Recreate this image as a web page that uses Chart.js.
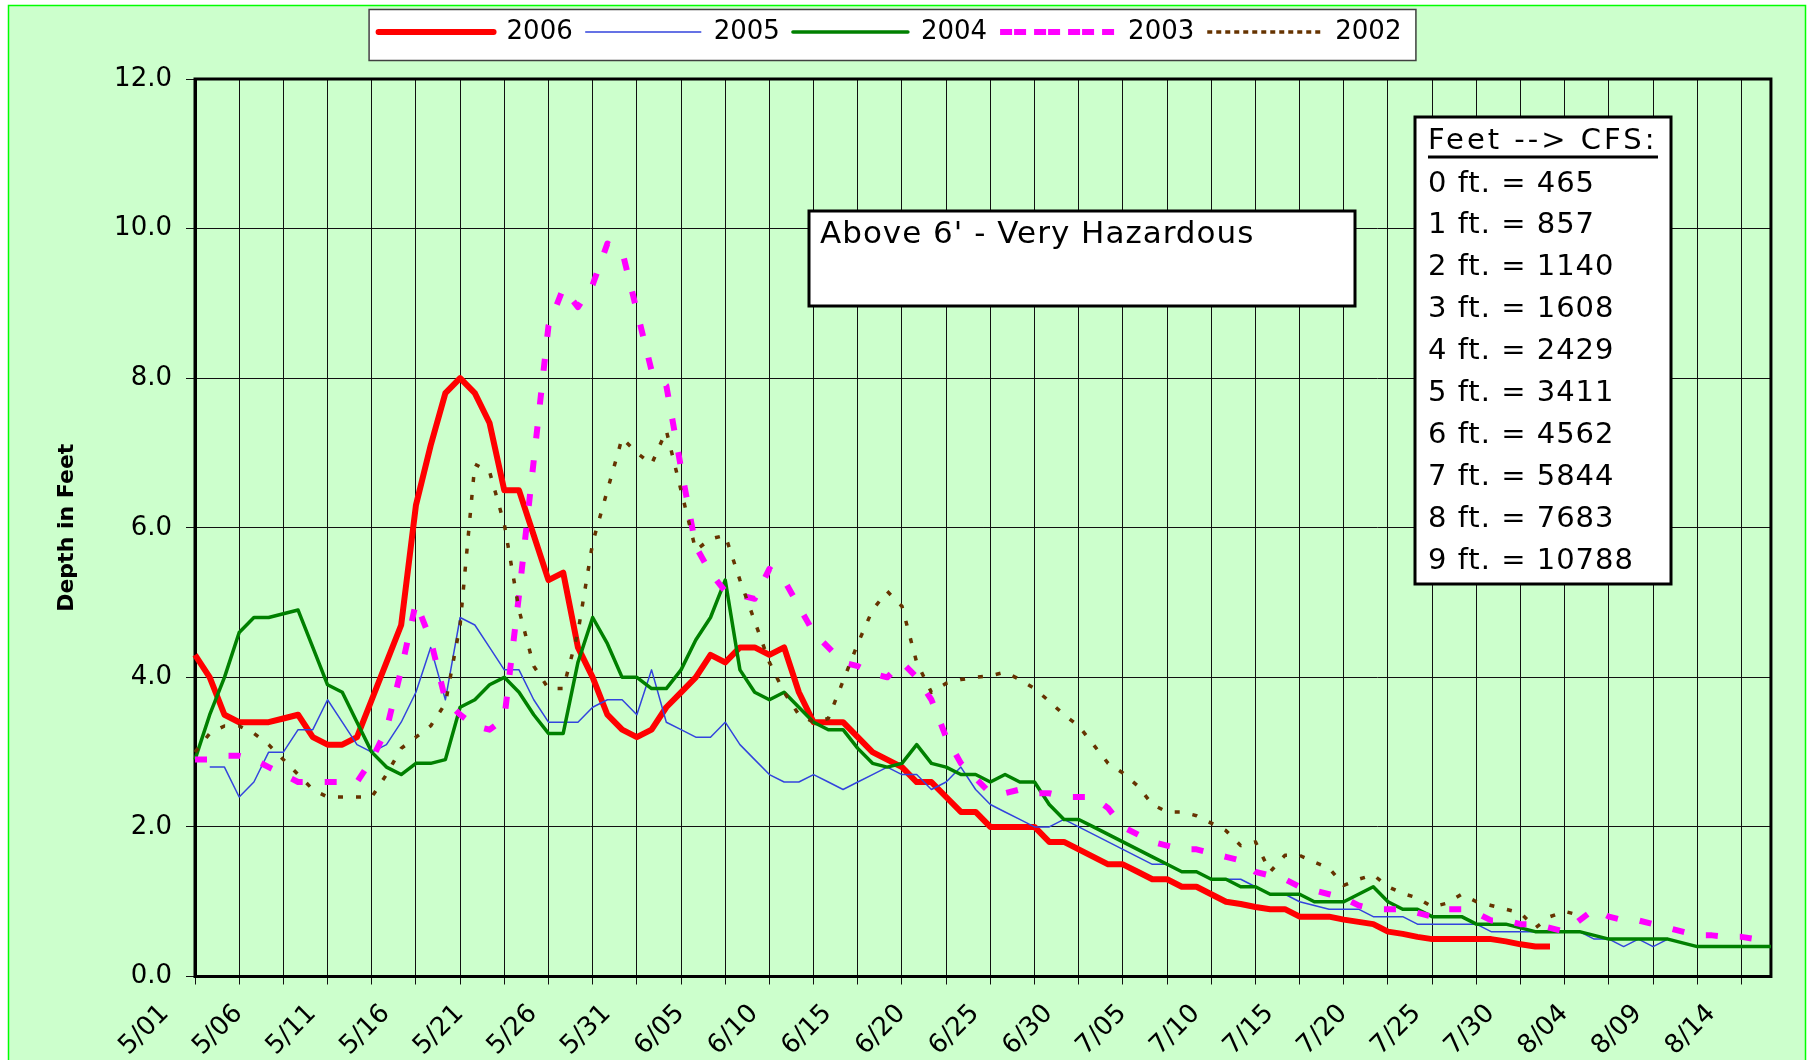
<!DOCTYPE html>
<html>
<head>
<meta charset="utf-8">
<title>Depth in Feet 2002-2006</title>
<script src="https://cdn.jsdelivr.net/npm/chart.js@4.4.1/dist/chart.umd.min.js"></script>
<style>
  html, body { margin: 0; padding: 0; background: #fff; }
</style>
</head>
<body>
<canvas id="grafico" width="1807" height="1060"></canvas>
<script>
// categorias: um ponto por dia, 5/01 ate 8/16
const meses = [['5', 31], ['6', 30], ['7', 31], ['8', 16]];
const dias = [];
meses.forEach(([m, n]) => {
  for (let d = 1; d <= n; d++) dias.push(m + '/' + String(d).padStart(2, '0'));
});

const anos = ['2006', '2005', '2004', '2003', '2002'];
const yTicks = [0, 2, 4, 6, 8, 10, 12];

const s2006 = [4.3, 4.0, 3.5, 3.4, 3.4, 3.4, 3.45, 3.5, 3.2, 3.1,
  3.1, 3.2, 3.7, 4.2, 4.7, 6.3, 7.1, 7.8, 8.0, 7.8,
  7.4, 6.5, 6.5, 5.9, 5.3, 5.4, 4.4, 4.0, 3.5, 3.3,
  3.2, 3.3, 3.6, 3.8, 4.0, 4.3, 4.2, 4.4, 4.4, 4.3,
  4.4, 3.8, 3.4, 3.4, 3.4, 3.2, 3.0, 2.9, 2.8, 2.6,
  2.6, 2.4, 2.2, 2.2, 2.0, 2.0, 2.0, 2.0, 1.8, 1.8,
  1.7, 1.6, 1.5, 1.5, 1.4, 1.3, 1.3, 1.2, 1.2, 1.1,
  1.0, 0.97, 0.93, 0.9, 0.9, 0.8, 0.8, 0.8, 0.76, 0.73,
  0.7, 0.6, 0.57, 0.53, 0.5, 0.5, 0.5, 0.5, 0.5, 0.47,
  0.43, 0.4, 0.4];

const s2005 = [null, 2.8, 2.8, 2.4, 2.6, 3.0, 3.0, 3.3, 3.3, 3.7,
  3.4, 3.1, 3.0, 3.1, 3.4, 3.8, 4.4, 3.7, 4.8, 4.7,
  4.4, 4.1, 4.1, 3.7, 3.4, 3.4, 3.4, 3.6, 3.7, 3.7,
  3.5, 4.1, 3.4, 3.3, 3.2, 3.2, 3.4, 3.1, 2.9, 2.7,
  2.6, 2.6, 2.7, 2.6, 2.5, 2.6, 2.7, 2.8, 2.7, 2.7,
  2.5, 2.6, 2.8, 2.5, 2.3, 2.2, 2.1, 2.0, 2.0, 2.1,
  2.0, 1.9, 1.8, 1.7, 1.6, 1.5, 1.5, 1.4, 1.4, 1.3,
  1.3, 1.3, 1.2, 1.1, 1.1, 1.0, 0.95, 0.9, 0.9, 0.9,
  0.8, 0.8, 0.8, 0.7, 0.7, 0.7, 0.7, 0.7, 0.6, 0.6,
  0.6, 0.6, 0.6, 0.6, 0.6, 0.5, 0.5, 0.4, 0.5, 0.4,
  0.5, 0.45, 0.4, 0.4, 0.4, 0.4, 0.4, 0.4];

const s2004 = [2.9, 3.5, 4.0, 4.6, 4.8, 4.8, 4.85, 4.9, 4.4, 3.9,
  3.8, 3.4, 3.0, 2.8, 2.7, 2.85, 2.85, 2.9, 3.6, 3.7,
  3.9, 4.0, 3.8, 3.5, 3.25, 3.25, 4.2, 4.8, 4.45, 4.0,
  4.0, 3.85, 3.85, 4.1, 4.5, 4.8, 5.3, 4.1, 3.8, 3.7,
  3.8, 3.6, 3.4, 3.3, 3.3, 3.05, 2.85, 2.8, 2.85, 3.1,
  2.85, 2.8, 2.7, 2.7, 2.6, 2.7, 2.6, 2.6, 2.3, 2.1,
  2.1, 2.0, 1.9, 1.8, 1.7, 1.6, 1.5, 1.4, 1.4, 1.3,
  1.3, 1.2, 1.2, 1.1, 1.1, 1.1, 1.0, 1.0, 1.0, 1.1,
  1.2, 1.0, 0.9, 0.9, 0.8, 0.8, 0.8, 0.7, 0.7, 0.7,
  0.65, 0.6, 0.6, 0.6, 0.6, 0.55, 0.5, 0.5, 0.5, 0.5,
  0.5, 0.45, 0.4, 0.4, 0.4, 0.4, 0.4, 0.4];

const s2003 = [2.9, 2.9, 2.95, 2.95, 2.9, 2.8, 2.7, 2.6, 2.6, 2.6,
  2.6, 2.6, 2.9, 3.3, 4.1, 5.0, 4.5, 3.7, 3.5, 3.35,
  3.3, 3.45, 5.1, 6.9, 8.7, 9.2, 8.95, 9.25, 9.8, 9.7,
  8.9, 8.1, 7.9, 6.8, 5.75, 5.4, 5.15, 5.1, 5.05, 5.45,
  5.3, 4.95, 4.6, 4.4, 4.2, 4.15, 4.05, 4.0, 4.2, 4.0,
  3.7, 3.2, 2.85, 2.65, 2.45, 2.45, 2.5, 2.45, 2.45, 2.4,
  2.4, 2.4, 2.25, 2.0, 1.9, 1.8, 1.75, 1.7, 1.7, 1.65,
  1.6, 1.55, 1.4, 1.35, 1.3, 1.2, 1.15, 1.1, 1.05, 0.95,
  0.9, 0.9, 0.9, 0.85, 0.8, 0.9, 0.9, 0.85, 0.75, 0.75,
  0.7, 0.7, 0.65, 0.6, 0.75, 0.9, 0.8, 0.75, 0.75, 0.7,
  0.65, 0.6, 0.55, 0.55, 0.53, 0.53, 0.5];

const s2002 = [3.0, 3.25, 3.35, 3.35, 3.25, 3.1, 2.9, 2.7, 2.5, 2.4,
  2.4, 2.4, 2.4, 2.7, 3.05, 3.2, 3.35, 3.65, 4.7, 6.85,
  6.75, 6.05, 4.9, 4.15, 3.85, 3.85, 4.6, 5.8, 6.5, 7.2,
  7.0, 6.85, 7.3, 6.5, 5.7, 5.85, 5.9, 5.3, 4.75, 4.2,
  3.8, 3.5, 3.4, 3.45, 3.95, 4.45, 4.9, 5.15, 4.95, 4.2,
  3.8, 3.92, 3.97, 4.0, 4.02, 4.07, 3.97, 3.85, 3.68, 3.5,
  3.35, 3.1, 2.85, 2.72, 2.55, 2.3, 2.2, 2.2, 2.15, 2.05,
  1.95, 1.75, 1.8, 1.4, 1.62, 1.62, 1.53, 1.45, 1.22, 1.3,
  1.36, 1.2, 1.11, 1.05, 0.93, 0.98, 1.1, 1.0, 0.95, 0.9,
  0.85, 0.65, 0.8, 0.87, 0.82];

const aviso = "Above 6' - Very Hazardous";
const cfsTitulo = 'Feet --> CFS:';
const cfsLinhas = ['0 ft. = 465', '1 ft. = 857', '2 ft. = 1140', '3 ft. = 1608', '4 ft. = 2429',
  '5 ft. = 3411', '6 ft. = 4562', '7 ft. = 5844', '8 ft. = 7683', '9 ft. = 10788'];

const fonte = "'DejaVu Sans', sans-serif";

// fundo verde, caixa da legenda, moldura do grafico e as duas caixas de texto
const molduras = {
  id: 'molduras',
  beforeLayout(chart) {
    const lg = chart.legend;
    if (lg && !lg._ajustado) {
      const fitOrig = lg.fit;
      lg.fit = function () { fitOrig.call(this); this.height += 24; };
      lg._ajustado = true;
    }
  },
  beforeDraw(chart) {
    const ctx = chart.ctx;
    ctx.save();
    ctx.fillStyle = '#ffffff';
    ctx.fillRect(0, 0, chart.width, chart.height);
    ctx.fillStyle = '#ccffcc';
    ctx.fillRect(8, 5, chart.width - 9, chart.height - 5);
    ctx.strokeStyle = '#00ff00';
    ctx.lineWidth = 1.5;
    ctx.strokeRect(8.5, 5.5, chart.width - 10, chart.height + 10);

    const hb = chart.legend.legendHitBoxes;
    if (hb && hb.length) {
      const x0 = hb[0].left - 10;
      const ult = hb[hb.length - 1];
      const x1 = ult.left + ult.width + 14;
      ctx.fillStyle = '#ffffff';
      ctx.fillRect(x0, 9, x1 - x0, 51);
      ctx.strokeStyle = '#404040';
      ctx.lineWidth = 1.5;
      ctx.strokeRect(x0 + 0.5, 9.5, x1 - x0, 51);
    }
    ctx.restore();
  },
  beforeDatasetsDraw(chart) {
    const { left, top, right, bottom } = chart.chartArea;
    const ctx = chart.ctx;
    ctx.save();
    ctx.strokeStyle = '#000';
    ctx.lineWidth = 3;
    ctx.strokeRect(left, top, right - left, bottom - top);
    ctx.restore();
  },
  afterDatasetsDraw(chart) {
    const ctx = chart.ctx;
    ctx.save();
    ctx.lineWidth = 3;
    ctx.strokeStyle = '#000';
    ctx.fillStyle = '#fff';

    ctx.fillRect(809, 211, 546, 95);
    ctx.strokeRect(809, 211, 546, 95);
    ctx.fillRect(1415, 117, 256, 467);
    ctx.strokeRect(1415, 117, 256, 467);

    ctx.fillStyle = '#000';
    ctx.textBaseline = 'alphabetic';
    ctx.textAlign = 'left';
    ctx.font = '31px ' + fonte;
    ctx.letterSpacing = '1px';
    ctx.fillText(aviso, 820, 243);

    ctx.font = '29px ' + fonte;
    ctx.letterSpacing = '3px';
    ctx.fillText(cfsTitulo, 1428, 149);
    ctx.lineWidth = 3;
    ctx.beginPath();
    ctx.moveTo(1428, 157);
    ctx.lineTo(1658, 157);
    ctx.stroke();
    ctx.letterSpacing = '1px';
    cfsLinhas.forEach((t, k) => ctx.fillText(t, 1428, 191.5 + k * 41.9));
    ctx.restore();
  }
};

const estilos = [
  { cor: '#ff0000', largura: 6, tracos: [], ordem: 5 },
  { cor: '#3344dd', largura: 1.5, tracos: [], ordem: 4 },
  { cor: '#008000', largura: 3.5, tracos: [], ordem: 3 },
  { cor: '#ff00ff', largura: 6, tracos: [12, 22], ordem: 2 },
  { cor: '#663300', largura: 3.5, tracos: [5, 13], ordem: 1 }
];
const series = [s2006, s2005, s2004, s2003, s2002];

new Chart(document.getElementById('grafico').getContext('2d'), {
  type: 'line',
  data: {
    labels: dias,
    datasets: anos.map((ano, k) => ({
      label: ano,
      data: series[k],
      borderColor: estilos[k].cor,
      backgroundColor: estilos[k].cor,
      borderWidth: estilos[k].largura,
      borderDash: estilos[k].tracos,
      borderCapStyle: 'butt',
      borderJoinStyle: 'round',
      pointRadius: 0,
      tension: 0,
      fill: false,
      order: estilos[k].ordem
    }))
  },
  options: {
    responsive: false,
    animation: false,
    devicePixelRatio: 1,
    layout: { padding: { top: 6, left: 8, right: 35, bottom: 0 } },
    plugins: {
      legend: {
        position: 'top',
        labels: {
          boxWidth: 115,
          boxHeight: 0,
          padding: 13,
          color: '#000',
          font: { family: fonte, size: 26 },
          sort: (a, b) => a.datasetIndex - b.datasetIndex
        }
      },
      tooltip: { enabled: false }
    },
    scales: {
      x: {
        ticks: {
          autoSkip: false,
          maxRotation: 45,
          minRotation: 45,
          padding: 14,
          labelOffset: -30,
          color: '#000',
          font: { family: fonte, size: 26 },
          callback: (v, i) => (i % 5 === 0 ? dias[i] : '')
        },
        grid: {
          color: c => (c.index % 3 === 0 ? '#111' : 'rgba(0,0,0,0)'),
          lineWidth: 1,
          tickLength: 8
        },
        border: { color: '#000', width: 3 },
        afterFit: s => { s.height = 83.5; }
      },
      y: {
        min: 0,
        max: 12,
        afterBuildTicks: s => { s.ticks = yTicks.map(v => ({ value: v })); },
        ticks: {
          color: '#000',
          padding: 14,
          font: { family: fonte, size: 26 },
          callback: v => Number(v).toFixed(1)
        },
        grid: { color: '#111', lineWidth: 1, tickLength: 9 },
        border: { color: '#000', width: 3 },
        title: {
          display: true,
          text: 'Depth in Feet',
          color: '#000',
          font: { family: fonte, size: 22, weight: 'bold' },
          padding: { top: 46, bottom: 0 }
        },
        afterFit: s => { s.width = 187; }
      }
    }
  },
  plugins: [molduras]
});
</script>
</body>
</html>
